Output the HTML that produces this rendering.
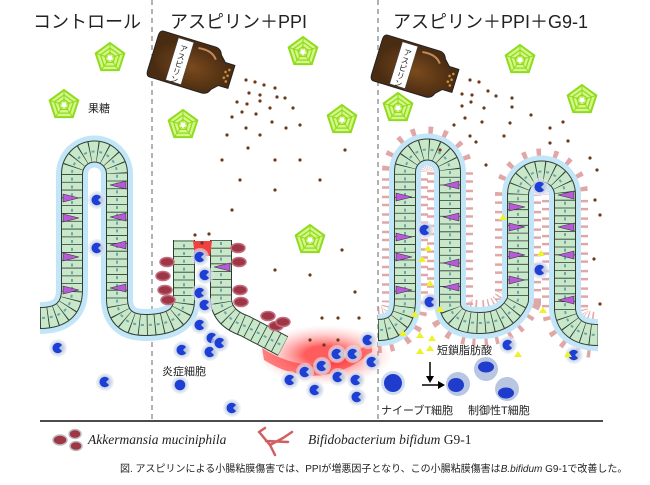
<!DOCTYPE html>
<html><head><meta charset="utf-8"><style>
html,body{margin:0;padding:0;background:#fff;}
svg{display:block;font-family:"Liberation Sans","Noto Sans CJK JP",sans-serif;}
</style></head><body>
<svg width="650" height="485" viewBox="0 0 650 485" xmlns="http://www.w3.org/2000/svg">
<defs>
<g id="pent">
<polygon points="0,-15 14.3,-4.6 8.8,12.1 -8.8,12.1 -14.3,-4.6" fill="#d6f58a" stroke="#8fdc1e" stroke-width="2"/>
<polygon points="0,-10 9.5,-3.1 5.9,8.1 -5.9,8.1 -9.5,-3.1" fill="none" stroke="#8fdc1e" stroke-width="1.3"/>
<polygon points="0,-5.5 5.2,-1.7 3.2,4.4 -3.2,4.4 -5.2,-1.7" fill="none" stroke="#8fdc1e" stroke-width="1.3"/>
<path d="M0,-15V0M14.3,-4.6L0,0M8.8,12.1L0,0M-8.8,12.1L0,0M-14.3,-4.6L0,0" stroke="#8fdc1e" stroke-width="1"/>
<circle r="2.5" fill="#fff"/>
</g>
<radialGradient id="halo"><stop offset="0.5" stop-color="#bcc8de"/><stop offset="1" stop-color="#e4eaf4" stop-opacity="0.5"/></radialGradient>
<g id="ic"><circle r="9" fill="url(#halo)"/><path d="M4,-3A5.2,5.2 0 1 0 4,3L1,0Z" fill="#1e3fd6"/></g>
<g id="ic2"><circle r="9" fill="url(#halo)"/><circle r="5.3" fill="#1e3fd6"/></g>
<radialGradient id="red"><stop offset="0.3" stop-color="#ff4040" stop-opacity="0.85"/><stop offset="1" stop-color="#ffb0b0" stop-opacity="0"/></radialGradient>
<radialGradient id="brown" cx="0.5" cy="0.55"><stop offset="0" stop-color="#7a4a1c"/><stop offset="1" stop-color="#4a2c12"/></radialGradient>
<g id="bottle">
<path d="M4,0H58Q64,0 66,6L72,12H82V36H72L66,42Q64,48 58,48H4Q0,48 0,42V6Q0,0 4,0Z" fill="url(#brown)" stroke="#222" stroke-width="1"/>
<rect x="20" y="2" width="16" height="44" fill="#fff" stroke="#444" stroke-width="0.5"/>
<text x="28" y="7" font-size="8" fill="#222" style="writing-mode:vertical-rl">アスピリン</text>
<path d="M42,6Q56,4 62,12" stroke="#c08a60" stroke-width="2" fill="none"/>
<g fill="#c89040"><circle cx="78" cy="18" r="1.3"/><circle cx="78" cy="24" r="1.3"/><circle cx="78" cy="30" r="1.3"/><circle cx="75" cy="21" r="1.3"/><circle cx="75" cy="27" r="1.3"/></g>
</g>
<g id="akk" fill="#a03545" stroke="#c07080" stroke-width="1.5"><ellipse cx="0" cy="0" rx="7" ry="4.5"/></g>
</defs>

<line x1="152" y1="0" x2="152" y2="420" stroke="#666" stroke-dasharray="5,4" stroke-width="1"/>
<line x1="378" y1="0" x2="378" y2="420" stroke="#666" stroke-dasharray="5,4" stroke-width="1"/>
<line x1="40" y1="421" x2="603" y2="421" stroke="#111" stroke-width="1.6"/>

<text x="33" y="28" font-size="18" fill="#222">コントロール</text>
<text x="170" y="28" font-size="18" fill="#222">アスピリン＋PPI</text>
<text x="393" y="28" font-size="18" fill="#222">アスピリン＋PPI＋G9-1</text>
<text x="88" y="112" font-size="11" fill="#222">果糖</text>

<use href="#pent" x="110" y="58"/>
<use href="#pent" x="64" y="105"/>
<use href="#pent" x="183" y="125"/>
<use href="#pent" x="303" y="52"/>
<use href="#pent" x="310" y="240"/>
<use href="#pent" x="342" y="120"/>
<use href="#pent" x="398" y="108"/>
<use href="#pent" x="520" y="60"/>
<use href="#pent" x="582" y="100"/>

<ellipse cx="325" cy="355" rx="68" ry="30" fill="url(#red)"/>
<path d="M262,348Q320,385 372,340L372,352Q320,395 264,360Z" fill="#ff3030" opacity="0.6"/>

<g fill="none" opacity="0.75" stroke="#d88a8a">
<path id="p3b" d="M378,330Q405,330 405,300L405,172A22.5,22.5 0 0 1 450,172L450,305Q452,323 480,323Q508,323 518,300L518,195A23.5,23.5 0 0 1 565,195L565,310Q568,335 598,335" stroke-width="46" stroke-dasharray="2.5 15"/>
<use href="#p3b" stroke-width="38" stroke-dasharray="2 19" stroke-dashoffset="-8"/>
</g>
<g fill="none" stroke-linejoin="round" stroke="#c2e6f7" stroke-width="32">
<path d="M40,318Q72,318 72,290L72,174A22.5,22.5 0 0 1 117,174L117,300Q118,325 145,325Q184,325 184,300"/>
<path d="M378,330Q405,330 405,300L405,172A22.5,22.5 0 0 1 450,172L450,305Q452,323 480,323Q508,323 518,300L518,195A23.5,23.5 0 0 1 565,195L565,310Q568,335 598,335"/>
</g>
<g fill="none" stroke-linejoin="round">
<path id="p1" d="M40,318Q72,318 72,290L72,174A22.5,22.5 0 0 1 117,174L117,300Q118,325 145,325Q184,325 184,300L184,240"/>
<path id="p2" d="M221,240L221,300Q222,318 245,326L283,346"/>
<path id="p3" d="M378,330Q405,330 405,300L405,172A22.5,22.5 0 0 1 450,172L450,305Q452,323 480,323Q508,323 518,300L518,195A23.5,23.5 0 0 1 565,195L565,310Q568,335 598,335"/>
<use href="#p1" stroke="#2c3e34" stroke-width="22"/>
<use href="#p2" stroke="#2c3e34" stroke-width="22"/>
<use href="#p3" stroke="#2c3e34" stroke-width="22"/>
<use href="#p1" stroke="#c9e7c9" stroke-width="20"/>
<use href="#p2" stroke="#c9e7c9" stroke-width="20"/>
<use href="#p3" stroke="#c9e7c9" stroke-width="20"/>
<use href="#p1" stroke="#2c3e34" stroke-width="20" stroke-dasharray="0.8 7"/>
<use href="#p2" stroke="#2c3e34" stroke-width="20" stroke-dasharray="0.8 7"/>
<use href="#p3" stroke="#2c3e34" stroke-width="20" stroke-dasharray="0.8 7"/>
<use href="#p1" stroke="#6aa8a8" stroke-width="2" stroke-dasharray="3 4.8" stroke-dashoffset="-2"/>
<use href="#p2" stroke="#6aa8a8" stroke-width="2" stroke-dasharray="3 4.8" stroke-dashoffset="-2"/>
<use href="#p3" stroke="#6aa8a8" stroke-width="2" stroke-dasharray="3 4.8" stroke-dashoffset="-2"/>
</g>
<path d="M193,241L212,241L210,256L195,256Z" fill="#f04040"/>

<g fill="#b85ad8" stroke="#333" stroke-width="0.6">
<path d="M63,194l16,4l-16,4z M63,214l16,4l-16,4z M63,253l16,4l-16,4z M63,286l16,4l-16,4z"/>
<path d="M126,181l-16,4l16,4z M126,213l-16,4l16,4z M126,241l-16,4l16,4z M126,284l-16,4l16,4z"/>
<path d="M396,193l16,4l-16,4z M396,233l16,4l-16,4z M396,253l16,4l-16,4z M396,286l16,4l-16,4z"/>
<path d="M459,181l-16,4l16,4z M459,213l-16,4l16,4z M459,259l-16,4l16,4z M459,283l-16,4l16,4z"/>
<path d="M509,203l16,4l-16,4z M509,223l16,4l-16,4z M509,251l16,4l-16,4z M509,276l16,4l-16,4z"/>
<path d="M574,191l-16,4l16,4z M574,223l-16,4l16,4z M574,251l-16,4l16,4z M574,296l-16,4l16,4z"/>
<path d="M230,263l-16,4l16,4z"/>
</g>

<use href="#akk" x="167" y="262"/><use href="#akk" x="163" y="276"/><use href="#akk" x="165" y="290"/><use href="#akk" x="168" y="300"/>
<use href="#akk" x="238" y="248"/><use href="#akk" x="239" y="262"/><use href="#akk" x="240" y="290"/><use href="#akk" x="241" y="302"/>
<use href="#akk" x="268" y="316"/><use href="#akk" x="276" y="326"/><use href="#akk" x="283" y="322"/>

<use href="#ic" x="97" y="200"/><use href="#ic" x="97" y="248"/>
<use href="#ic" x="58" y="348"/><use href="#ic" x="105" y="382"/>
<use href="#ic" x="200" y="257"/><use href="#ic" x="205" y="275"/><use href="#ic" x="200" y="293"/><use href="#ic" x="205" y="305"/>
<use href="#ic" x="200" y="325"/><use href="#ic" x="212" y="338"/><use href="#ic" x="182" y="350"/><use href="#ic" x="210" y="352"/>
<use href="#ic" x="220" y="343"/><use href="#ic2" x="180" y="385"/><use href="#ic" x="232" y="408"/>
<use href="#ic" x="290" y="380"/><use href="#ic" x="305" y="372"/><use href="#ic" x="322" y="366"/><use href="#ic" x="337" y="354"/>
<use href="#ic" x="353" y="354"/><use href="#ic" x="368" y="340"/><use href="#ic" x="372" y="362"/><use href="#ic" x="338" y="377"/>
<use href="#ic" x="356" y="380"/><use href="#ic" x="315" y="390"/><use href="#ic" x="357" y="397"/>
<use href="#ic" x="425" y="230"/><use href="#ic" x="430" y="302"/><use href="#ic" x="540" y="187"/><use href="#ic" x="540" y="270"/>
<use href="#ic" x="508" y="345"/><use href="#ic" x="574" y="355"/>

<g fill="#eef22a">
<path d="M428,245l4,6h-8z M422,256l4,6h-8z M430,280l4,6h-8z M415,311l4,6h-8z M440,306l4,6h-8z M503,214l4,6h-8z M541,250l4,6h-8z M543,307l4,6h-8z M403,330l4,6h-8z M420,332l4,6h-8z M432,335l4,6h-8z M430,345l4,6h-8z M518,351l4,6h-8z M568,351l4,6h-8z M420,348l4,6h-8z"/>
</g>

<circle cx="393" cy="383" r="12" fill="#d0ddee"/><circle cx="393" cy="383" r="9" fill="#1f3ccd"/>
<circle cx="458" cy="384" r="12" fill="#b8c6e2"/><ellipse cx="456" cy="385" rx="8" ry="7" fill="#1f3ccd"/>
<circle cx="486" cy="369" r="12" fill="#b8c6e2"/><ellipse cx="486" cy="367" rx="8" ry="5.5" fill="#1f3ccd"/>
<circle cx="507" cy="389" r="12" fill="#b8c6e2"/><ellipse cx="506" cy="393" rx="8" ry="5.5" fill="#1f3ccd"/>
<line x1="430" y1="362" x2="430" y2="378" stroke="#000" stroke-width="1.5"/><path d="M426,376h8l-4,7z"/>
<line x1="422" y1="385" x2="440" y2="385" stroke="#000" stroke-width="1.5"/><path d="M438,381v8l7,-4z"/>
<text x="437" y="354" font-size="11" fill="#222">短鎖脂肪酸</text>
<text x="381" y="414" font-size="11" fill="#222">ナイーブT細胞</text>
<text x="468" y="414" font-size="11" fill="#222">制御性T細胞</text>
<text x="162" y="375" font-size="11" fill="#222">炎症細胞</text>

<use href="#bottle" transform="translate(160,30) rotate(17)"/>
<use href="#bottle" transform="translate(384,34) rotate(17)"/>

<g fill="#6b3a1a">
<circle cx="246" cy="80" r="1.6"/><circle cx="255" cy="82" r="1.6"/><circle cx="264" cy="85" r="1.6"/><circle cx="275" cy="88" r="1.6"/>
<circle cx="249" cy="93" r="1.6"/><circle cx="260" cy="95" r="1.6"/><circle cx="277" cy="97" r="1.6"/><circle cx="285" cy="98" r="1.6"/>
<circle cx="237" cy="102" r="1.6"/><circle cx="247" cy="104" r="1.6"/><circle cx="260" cy="101" r="1.6"/><circle cx="270" cy="108" r="1.6"/><circle cx="293" cy="108" r="1.6"/>
<circle cx="232" cy="117" r="1.6"/><circle cx="242" cy="112" r="1.6"/><circle cx="256" cy="114" r="1.6"/><circle cx="272" cy="122" r="1.6"/><circle cx="286" cy="128" r="1.6"/><circle cx="300" cy="125" r="1.6"/>
<circle cx="227" cy="135" r="1.6"/><circle cx="246" cy="128" r="1.6"/><circle cx="260" cy="135" r="1.6"/><circle cx="248" cy="148" r="1.6"/>
<circle cx="222" cy="160" r="1.6"/><circle cx="275" cy="160" r="1.6"/><circle cx="300" cy="160" r="1.6"/><circle cx="240" cy="180" r="1.6"/>
<circle cx="232" cy="210" r="1.6"/><circle cx="275" cy="190" r="1.6"/><circle cx="320" cy="180" r="1.6"/><circle cx="345" cy="150" r="1.6"/>
<circle cx="342" cy="250" r="1.6"/><circle cx="275" cy="270" r="1.6"/><circle cx="310" cy="275" r="1.6"/><circle cx="355" cy="292" r="1.6"/>
<circle cx="322" cy="318" r="1.6"/><circle cx="338" cy="318" r="1.6"/><circle cx="359" cy="318" r="1.6"/><circle cx="310" cy="340" r="1.6"/><circle cx="324" cy="345" r="1.6"/><circle cx="338" cy="340" r="1.6"/>
<circle cx="195" cy="235" r="1.6"/><circle cx="209" cy="234" r="1.6"/><circle cx="202" cy="243" r="1.6"/>
<circle cx="470" cy="80" r="1.6"/><circle cx="479" cy="82" r="1.6"/><circle cx="488" cy="91" r="1.6"/><circle cx="496" cy="96" r="1.6"/>
<circle cx="462" cy="94" r="1.6"/><circle cx="472" cy="95" r="1.6"/><circle cx="484" cy="108" r="1.6"/><circle cx="512" cy="98" r="1.6"/>
<circle cx="462" cy="106" r="1.6"/><circle cx="471" cy="102" r="1.6"/><circle cx="512" cy="107" r="1.6"/><circle cx="531" cy="115" r="1.6"/>
<circle cx="465" cy="118" r="1.6"/><circle cx="482" cy="122" r="1.6"/><circle cx="510" cy="123" r="1.6"/><circle cx="550" cy="128" r="1.6"/><circle cx="563" cy="122" r="1.6"/>
<circle cx="454" cy="125" r="1.6"/><circle cx="470" cy="136" r="1.6"/><circle cx="504" cy="136" r="1.6"/><circle cx="550" cy="143" r="1.6"/><circle cx="568" cy="141" r="1.6"/>
<circle cx="476" cy="142" r="1.6"/><circle cx="590" cy="158" r="1.6"/><circle cx="597" cy="170" r="1.6"/>
<circle cx="595" cy="200" r="1.6"/><circle cx="600" cy="215" r="1.6"/><circle cx="594" cy="259" r="1.6"/><circle cx="600" cy="304" r="1.6"/>
<circle cx="440" cy="150" r="1.6"/><circle cx="486" cy="165" r="1.6"/>
</g>

<ellipse cx="60" cy="440" rx="7" ry="5" fill="#a03545" stroke="#bbb" stroke-width="1.5"/>
<ellipse cx="75" cy="434" rx="6" ry="4.5" fill="#a03545" stroke="#bbb" stroke-width="1.5"/>
<ellipse cx="76" cy="446" rx="6" ry="4.5" fill="#a03545" stroke="#bbb" stroke-width="1.5"/>
<text x="88" y="444" font-size="13.5" font-style="italic" font-family="Liberation Serif, serif" fill="#222">Akkermansia muciniphila</text>
<g stroke="#d06060" stroke-width="2.5" fill="none" stroke-linecap="round">
<path d="M260,433L270,445L283,438M270,445L275,455M259,432L265,428M283,438L292,432M266,441L288,442"/>
</g>
<text x="308" y="444" font-size="13.5" font-family="Liberation Serif, serif" fill="#222"><tspan font-style="italic">Bifidobacterium bifidum</tspan> G9-1</text>
<text x="120" y="472" font-size="10" fill="#222">図. アスピリンによる小腸粘膜傷害では、PPIが増悪因子となり、この小腸粘膜傷害は<tspan font-style="italic">B.bifidum</tspan> G9-1で改善した。</text>
</svg>
</body></html>
